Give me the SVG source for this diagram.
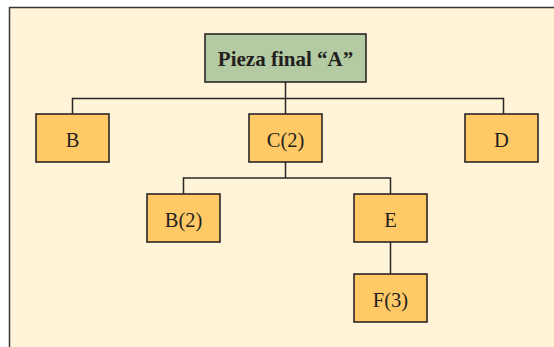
<svg xmlns="http://www.w3.org/2000/svg" width="554" height="347" viewBox="0 0 554 347">
<style>
.panel{fill:#FFF4D8;}
.edge{stroke:#2B2526;stroke-width:1.5;}
.box{fill:#FFC966;stroke:#2B2526;stroke-width:1.6;}
.root{fill:#B4CAA2;stroke:#2B2526;stroke-width:1.6;}
text{font-family:"Liberation Serif","Times New Roman",serif;fill:#231F20;text-anchor:middle;}
.lbl{font-size:20.5px;}
.rlbl{font-size:21px;font-weight:bold;}
</style>
<rect x="0" y="0" width="554" height="347" fill="#FFFFFF"/>
<rect class="panel" x="9.5" y="7.5" width="545" height="340"/>
<path d="M9.5 347V7.5H554" fill="none" stroke="#3A3536" stroke-width="1.5"/>
<g id="connectors" fill="none">
<path class="edge" d="M285.5 82V98.5M72.5 114V98.5H503.5V114M285.5 98.5V114"/>
<path class="edge" d="M285.5 162V178M183.5 194V178H390.5V194"/>
<path class="edge" d="M390.5 242V274"/>
</g>
<g id="nodeA"><rect class="root" x="205" y="34" width="161" height="48"/><text class="rlbl" x="285.5" y="66">Pieza final “A”</text></g>
<g id="nodeB"><rect class="box" x="36" y="114" width="73" height="48"/><text class="lbl" x="72.5" y="146.5">B</text></g>
<g id="nodeC"><rect class="box" x="249" y="114" width="73" height="48"/><text class="lbl" x="285.5" y="146.5">C(2)</text></g>
<g id="nodeD"><rect class="box" x="465" y="114" width="73" height="48"/><text class="lbl" x="501.5" y="146.5">D</text></g>
<g id="nodeB2"><rect class="box" x="147" y="194" width="73" height="48"/><text class="lbl" x="183.5" y="226.5">B(2)</text></g>
<g id="nodeE"><rect class="box" x="354" y="194" width="73" height="48"/><text class="lbl" x="390.5" y="226.5">E</text></g>
<g id="nodeF"><rect class="box" x="354" y="274" width="73" height="48"/><text class="lbl" x="390.5" y="306.5">F(3)</text></g>
</svg>
